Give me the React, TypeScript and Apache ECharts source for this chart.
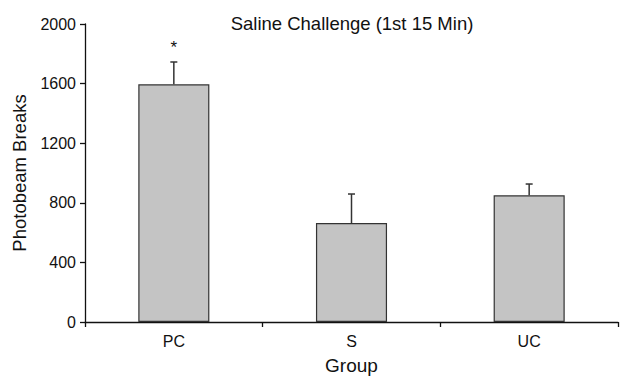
import React, { useEffect, useRef } from "react";
import * as echarts from "echarts";

const categories = ["PC", "S", "UC"];
const means = [1595, 664, 850];
const errorTops = [1745, 859, 926];
const significance = ["*", "", ""];
const yTicks = { min: 0, max: 2000, interval: 400 };

export default function App() {
  const ref = useRef<HTMLDivElement>(null);
  useEffect(() => {
    const chart = echarts.init(ref.current!, null, { renderer: "svg" });
    const font = "Liberation Sans, Arial, sans-serif";
    chart.setOption({
      animation: false,
      title: {
        text: "Saline Challenge (1st 15 Min)",
        left: 347,
        textAlign: "center",
        top: 9,
        textStyle: { fontFamily: font, fontSize: 18.5, fontWeight: "normal", color: "#111" },
      },
      grid: { left: 85, right: 3, top: 24, bottom: 53, containLabel: false },
      xAxis: {
        type: "category",
        data: categories,
        name: "Group",
        nameLocation: "middle",
        nameGap: 34,
        nameTextStyle: { fontFamily: font, fontSize: 19, color: "#111" },
        axisLine: { lineStyle: { color: "#111", width: 1.3 } },
        axisTick: { show: true, alignWithLabel: false, length: 5, lineStyle: { color: "#111", width: 1.3 } },
        axisLabel: { fontFamily: font, fontSize: 16, color: "#111", margin: 11 },
      },
      yAxis: {
        type: "value",
        min: yTicks.min,
        max: yTicks.max,
        interval: yTicks.interval,
        name: "Photobeam Breaks",
        nameLocation: "middle",
        nameGap: 56,
        nameTextStyle: { fontFamily: font, fontSize: 18.5, color: "#111" },
        axisLine: { show: true, lineStyle: { color: "#111", width: 1.3 } },
        axisTick: { show: true, length: 5, lineStyle: { color: "#111", width: 1.3 } },
        axisLabel: { fontFamily: font, fontSize: 16, color: "#111", margin: 9, formatter: (v: number) => String(v) },
        splitLine: { show: false },
      },
      series: [
        {
          type: "bar",
          data: means,
          barWidth: "40%",
          itemStyle: { color: "#c4c4c4", borderColor: "#333", borderWidth: 1.2 },
          z: 2,
        },
        {
          type: "custom",
          z: 3,
          data: categories.map((c, i) => [i, means[i], errorTops[i]]),
          renderItem: (params: any, api: any) => {
            const i = api.value(0);
            const base = api.coord([i, api.value(1)]);
            const top = api.coord([i, api.value(2)]);
            const children: any[] = [
              { type: "line", shape: { x1: base[0], y1: base[1], x2: top[0], y2: top[1] }, style: { stroke: "#333", lineWidth: 1.5 } },
              { type: "line", shape: { x1: top[0] - 3.5, y1: top[1], x2: top[0] + 3.5, y2: top[1] }, style: { stroke: "#333", lineWidth: 1.5 } },
            ];
            const sig = significance[params.dataIndex];
            if (sig) {
              children.push({
                type: "text",
                style: { text: sig, x: top[0], y: top[1] - 14, textAlign: "center", textVerticalAlign: "middle", fontSize: 17, fontFamily: font, fill: "#111" },
              });
            }
            return { type: "group", children };
          },
        },
      ],
    });
    return () => chart.dispose();
  }, []);
  return <div ref={ref} style={{ width: 621, height: 380, position: "absolute", left: 0, top: 0 }} />;
}
